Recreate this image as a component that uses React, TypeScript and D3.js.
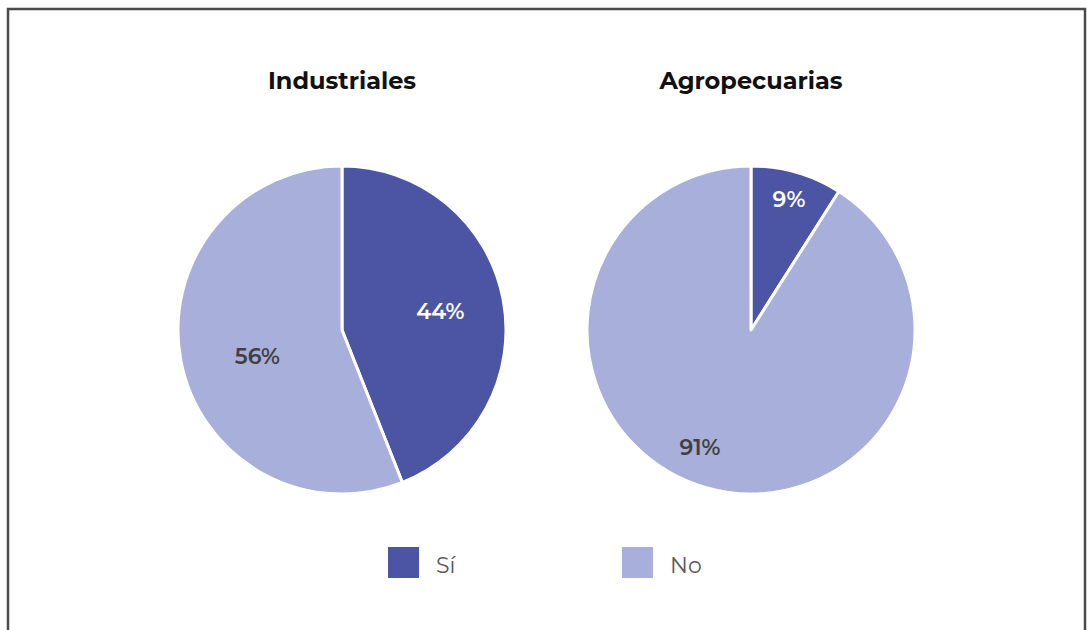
import React from "react";
import * as d3 from "d3";

const categories = ["Sí", "No"];
const chartTitles = ["Industriales", "Agropecuarias"];
const industrialesValues = [44, 56];
const agropecuariasValues = [9, 91];
const colors = ["#4B55A3", "#A7AFDA"];
const labelColors = ["#FFFFFF", "#404040"];

const W = 1087;
const H = 630;
const FONT = "Montserrat, 'Open Sans', 'Noto Sans', sans-serif";

function Pie({ cx, cy, r, values, title, labelFactor, labelShift }: any) {
  const pie = d3.pie<number>().sort(null).value((d) => d);
  const arcs = pie(values);
  const arc = d3.arc<d3.PieArcDatum<number>>().innerRadius(0).outerRadius(r);
  return (
    <g>
      <text x={cx} y={89} textAnchor="middle" fontFamily={FONT} fontWeight={700} fontSize={24} fill="#111">
        {title}
      </text>
      <g transform={`translate(${cx},${cy})`}>
        {arcs.map((a, i) => (
          <path key={i} d={arc(a) || ""} fill={colors[i]} stroke="#fff" strokeWidth={3} strokeLinejoin="round" />
        ))}
        {arcs.map((a, i) => {
          const mid = (a.startAngle + a.endAngle) / 2 + (labelShift[i] * Math.PI) / 180;
          const lr = r * labelFactor[i];
          const x = Math.sin(mid) * lr;
          const y = -Math.cos(mid) * lr;
          return (
            <text key={"l" + i} x={x} y={y} dy="0.36em" textAnchor="middle" fontFamily={FONT} fontWeight={600} fontSize={22} fill={labelColors[i]}>
              {values[i]}%
            </text>
          );
        })}
      </g>
    </g>
  );
}

export default function App() {
  const r = 164;
  const cy = 330;
  return (
    <svg width={W} height={H} style={{ position: "absolute", left: 0, top: 0 }}>
      <rect x={0} y={0} width={W} height={H} fill="#fff" />
      <path d={`M8,${H + 5} V9 H1085 V${H + 5}`} fill="none" stroke="#4a4a4a" strokeWidth={2.5} />
      <Pie cx={342} cy={cy} r={r} values={industrialesValues} title={chartTitles[0]} labelFactor={[0.61, 0.54]} labelShift={[0, -6.4]} />
      <Pie cx={751} cy={cy} r={r} values={agropecuariasValues} title={chartTitles[1]} labelFactor={[0.83, 0.78]} labelShift={[0, 7.3]} />
      {categories.map((c, i) => (
        <g key={c} transform={`translate(${388 + i * 234},547)`}>
          <rect width={31} height={31} fill={colors[i]} />
          <text x={48} y={18} dy="0.35em" fontFamily={FONT} fontWeight={400} fontSize={22} fill="#595959">
            {c}
          </text>
        </g>
      ))}
    </svg>
  );
}
